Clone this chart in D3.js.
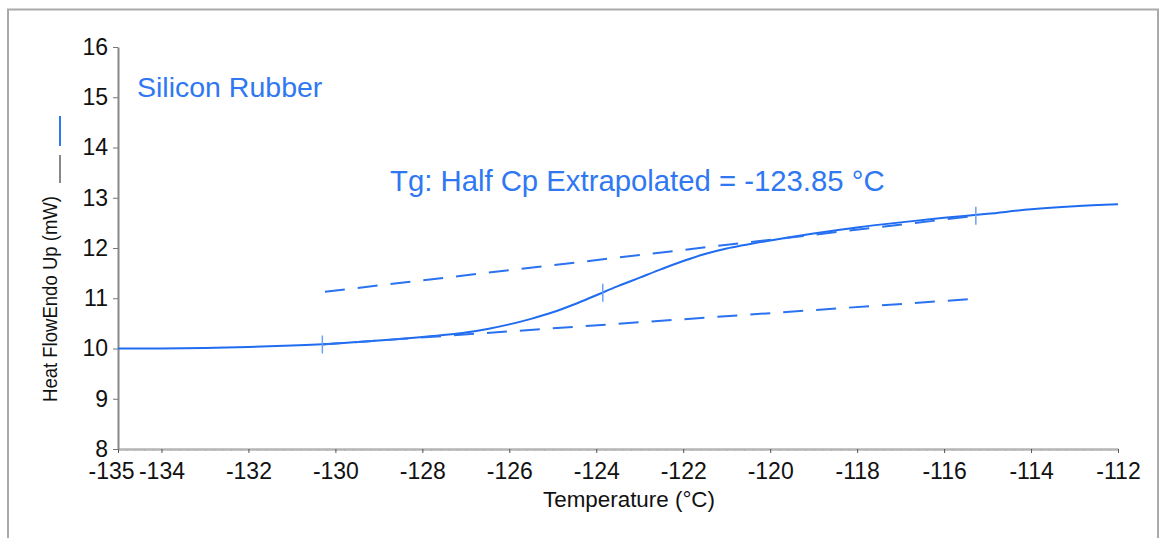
<!DOCTYPE html>
<html>
<head>
<meta charset="utf-8">
<script src="https://cdn.jsdelivr.net/npm/d3@7"></script>
<style>
  body { margin: 0; background: #fff; }
  svg { display: block; font-family: "Liberation Sans", Arial, sans-serif; }
  .tick text { fill: #111; }
</style>
</head>
<body>
<svg id="chart" width="1160" height="538"></svg>
<script>
// DSC trace, silicon rubber
const temps    = [-135, -134, -133, -132, -131, -130, -129, -128, -127, -126.5, -126, -125.5, -125, -124.5, -124,
                  -123.5, -123, -122.5, -122, -121.5, -121, -120, -119, -118, -117, -116, -115, -114, -113, -112];
const heatFlow = [10.00, 10.00, 10.01, 10.03, 10.06, 10.10, 10.16, 10.23, 10.32, 10.39, 10.48, 10.59, 10.72, 10.88, 11.06,
                  11.24, 11.41, 11.58, 11.74, 11.88, 11.99, 12.15, 12.29, 12.41, 12.51, 12.60, 12.68, 12.77, 12.83, 12.87];

// extrapolated baselines (start / end points)
const upperBaseTemps = [-130.24, -115.27];
const upperBaseFlow  = [11.13, 12.64];
const lowerBaseTemps = [-130.3, -115.27];
const lowerBaseFlow  = [10.08, 10.99];

// onset / midpoint / endset marks
const markTemps = [-130.3, -123.85, -115.27];
const markFlow  = [10.08, 11.11, 12.64];

const xTicks = [-135, -134, -132, -130, -128, -126, -124, -122, -120, -118, -116, -114, -112];
const yTicks = [8, 9, 10, 11, 12, 13, 14, 15, 16];

const sampleName = "Silicon Rubber";
const tgLabel    = "Tg: Half Cp Extrapolated = -123.85 °C";

const margin = { top: 47, right: 42, bottom: 89, left: 118 },
      width  = 1160,
      height = 538,
      graphWidth  = width - margin.left - margin.right,
      graphHeight = height - margin.top - margin.bottom;

const svg = d3.select("#chart");

// frame
svg.append("path")
  .attr("d", `M8,538 V9.5 H1158 V538`)
  .attr("fill", "none")
  .attr("stroke", "#aaa")
  .attr("stroke-width", 2);

const g = svg.append("g")
  .attr("transform", `translate(${margin.left}, ${margin.top})`);

const xScale = d3.scaleLinear().domain([-135, -112]).range([0, graphWidth]);
const yScale = d3.scaleLinear().domain([8, 16]).range([graphHeight, 0]);

// minor x ticks
g.append("g")
  .attr("transform", `translate(0, ${graphHeight})`)
  .call(d3.axisBottom(xScale).ticks(92).tickSize(2).tickFormat(""))
  .call(a => a.select(".domain").remove())
  .call(a => a.selectAll("line").attr("stroke", "#999"));

// x axis (plain hyphen minus like the original)
g.append("g")
  .attr("class", "x axis")
  .attr("transform", `translate(0, ${graphHeight})`)
  .call(d3.axisBottom(xScale).tickValues(xTicks).tickSize(4).tickSizeOuter(0).tickPadding(10).tickFormat(d => String(d)))
  .call(a => a.select(".domain").attr("stroke", "#b5b5b5").attr("stroke-width", 2.5))
  .call(a => a.selectAll("line").attr("stroke", "#555"))
  .call(a => a.selectAll("text").style("font-size", "23px"))
  .call(a => a.selectAll(".tick").filter(d => d === -135).select("text").attr("dx", -7));

// y axis
g.append("g")
  .attr("class", "y axis")
  .call(d3.axisLeft(yScale).tickValues(yTicks).tickSize(5).tickSizeOuter(0).tickPadding(5))
  .call(a => a.select(".domain").attr("stroke", "#888").attr("stroke-width", 2))
  .call(a => a.selectAll("line").attr("stroke", "#777"))
  .call(a => a.selectAll("text").style("font-size", "23px"));

// axis titles
svg.append("text")
  .attr("x", 629)
  .attr("y", 507)
  .attr("text-anchor", "middle")
  .attr("font-family", "'Liberation Sans Narrow', 'Liberation Sans', Arial, sans-serif")
  .attr("font-size", 22)
  .attr("textLength", 172)
  .attr("lengthAdjust", "spacingAndGlyphs")
  .attr("fill", "#111")
  .text("Temperature (°C)");

svg.append("text")
  .attr("transform", `translate(57, 299) rotate(-90)`)
  .attr("text-anchor", "middle")
  .attr("font-family", "'Liberation Sans Narrow', 'Liberation Sans', Arial, sans-serif")
  .attr("font-size", 21)
  .attr("textLength", 206)
  .attr("lengthAdjust", "spacingAndGlyphs")
  .attr("fill", "#111")
  .text("Heat FlowEndo Up (mW)");

// legend strokes next to the y title
svg.append("line")
  .attr("x1", 60).attr("x2", 60).attr("y1", 116).attr("y2", 146)
  .attr("stroke", "#2f78f2").attr("stroke-width", 2);
svg.append("line")
  .attr("x1", 60).attr("x2", 60).attr("y1", 155).attr("y2", 183)
  .attr("stroke", "#888").attr("stroke-width", 2);

// curve
const line = d3.line()
  .x((d, i) => xScale(temps[i]))
  .y(d => yScale(d))
  .curve(d3.curveCatmullRom.alpha(0.5));

g.append("path")
  .datum(heatFlow)
  .attr("fill", "none")
  .attr("stroke", "#1f6cf0")
  .attr("stroke-width", 2)
  .attr("d", line);

// baselines
const baseLine = (ts, fs) => g.append("line")
  .attr("x1", xScale(ts[0])).attr("y1", yScale(fs[0]))
  .attr("x2", xScale(ts[1])).attr("y2", yScale(fs[1]))
  .attr("stroke", "#2a72f0")
  .attr("stroke-width", 2)
  .attr("stroke-dasharray", "20,13");

baseLine(upperBaseTemps, upperBaseFlow);
baseLine(lowerBaseTemps, lowerBaseFlow);

// marks
g.selectAll(".mark")
  .data(markTemps)
  .enter()
  .append("line")
  .attr("class", "mark")
  .attr("x1", d => xScale(d)).attr("x2", d => xScale(d))
  .attr("y1", (d, i) => yScale(markFlow[i]) - 9)
  .attr("y2", (d, i) => yScale(markFlow[i]) + 9)
  .attr("stroke", "#6aa2f3")
  .attr("stroke-width", 1.5);

// annotations
svg.append("text")
  .attr("x", 137).attr("y", 97)
  .attr("font-size", 28.5)
  .attr("fill", "#2f78f2")
  .text(sampleName);

svg.append("text")
  .attr("x", 390).attr("y", 191)
  .attr("font-size", 29.3)
  .attr("fill", "#2f78f2")
  .text(tgLabel);
</script>
</body>
</html>
